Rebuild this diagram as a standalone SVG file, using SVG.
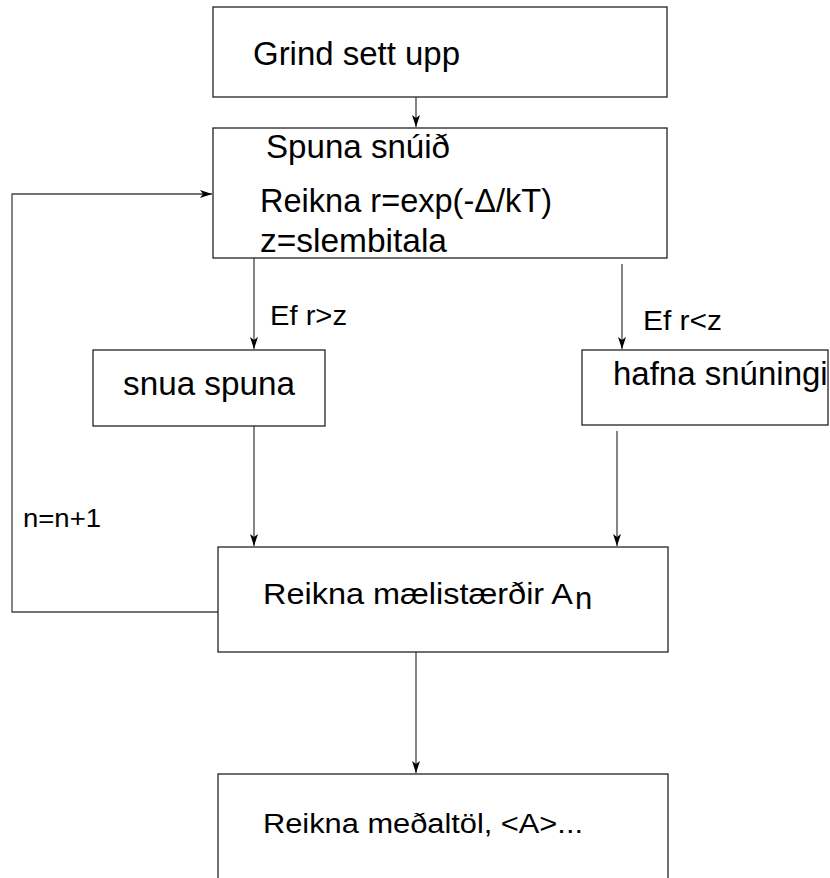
<svg xmlns="http://www.w3.org/2000/svg" width="830" height="878" viewBox="0 0 830 878">
<style>
  .box { fill: #ffffff; stroke: #222222; stroke-width: 1.3; }
  .conn { fill: none; stroke: #444444; stroke-width: 1.3; }
  .t { font-family: "Liberation Sans", Arial, Helvetica, sans-serif; fill: #000000; }
</style>
<defs>
  <marker id="arr" viewBox="0 0 12 8" refX="12" refY="4" markerWidth="12" markerHeight="8" markerUnits="userSpaceOnUse" orient="auto">
    <path d="M0,0 L12,4 L0,8 L3,4 Z" fill="#000000"/>
  </marker>
</defs>
<rect width="830" height="878" fill="#ffffff"/>

<g id="connectors">
  <line class="conn" x1="416" y1="97" x2="416" y2="127" marker-end="url(#arr)"/>
  <line class="conn" x1="254" y1="258" x2="254" y2="349" marker-end="url(#arr)"/>
  <line class="conn" x1="622" y1="264" x2="622" y2="349" marker-end="url(#arr)"/>
  <line class="conn" x1="254" y1="426" x2="254" y2="546" marker-end="url(#arr)"/>
  <line class="conn" x1="617" y1="431" x2="617" y2="546" marker-end="url(#arr)"/>
  <line class="conn" x1="416" y1="652" x2="416" y2="773" marker-end="url(#arr)"/>
  <polyline class="conn" points="218,612 12,612 12,194 212,194" marker-end="url(#arr)"/>
  <text class="t" x="270" y="325" font-size="28" textLength="77" lengthAdjust="spacingAndGlyphs">Ef r&gt;z</text>
  <text class="t" x="643" y="330" font-size="28" textLength="79" lengthAdjust="spacingAndGlyphs">Ef r&lt;z</text>
  <text class="t" x="23" y="527" font-size="26" textLength="78" lengthAdjust="spacingAndGlyphs">n=n+1</text>
</g>

<g id="node-grind">
  <rect class="box" x="213" y="7" width="454" height="90"/>
  <text class="t" x="253" y="65" font-size="33" textLength="207" lengthAdjust="spacingAndGlyphs">Grind sett upp</text>
</g>

<g id="node-spuna">
  <rect class="box" x="213" y="128" width="454" height="130"/>
  <text class="t" x="266" y="158" font-size="33" textLength="184" lengthAdjust="spacingAndGlyphs">Spuna snúið</text>
  <text class="t" x="260" y="212" font-size="33" textLength="292" lengthAdjust="spacingAndGlyphs">Reikna r=exp(-Δ/kT)</text>
  <text class="t" x="260" y="252" font-size="33" textLength="187" lengthAdjust="spacingAndGlyphs">z=slembitala</text>
</g>

<g id="node-snua">
  <rect class="box" x="93" y="350" width="232" height="76"/>
  <text class="t" x="123" y="395" font-size="33" textLength="172" lengthAdjust="spacingAndGlyphs">snua spuna</text>
</g>

<g id="node-hafna">
  <rect class="box" x="582" y="350" width="246" height="75"/>
  <text class="t" x="613" y="385" font-size="33">hafna snúningi</text>
</g>

<g id="node-maelistaerdir">
  <rect class="box" x="218" y="547" width="450" height="105"/>
  <text class="t" x="263" y="604" font-size="29" textLength="310" lengthAdjust="spacingAndGlyphs">Reikna mælistærðir A</text>
  <text class="t" x="575" y="609" font-size="31">n</text>
</g>

<g id="node-medaltol">
  <rect class="box" x="218" y="774" width="450" height="130"/>
  <text class="t" x="263" y="833" font-size="27" textLength="320" lengthAdjust="spacingAndGlyphs">Reikna meðaltöl, &lt;A&gt;...</text>
</g>
</svg>
